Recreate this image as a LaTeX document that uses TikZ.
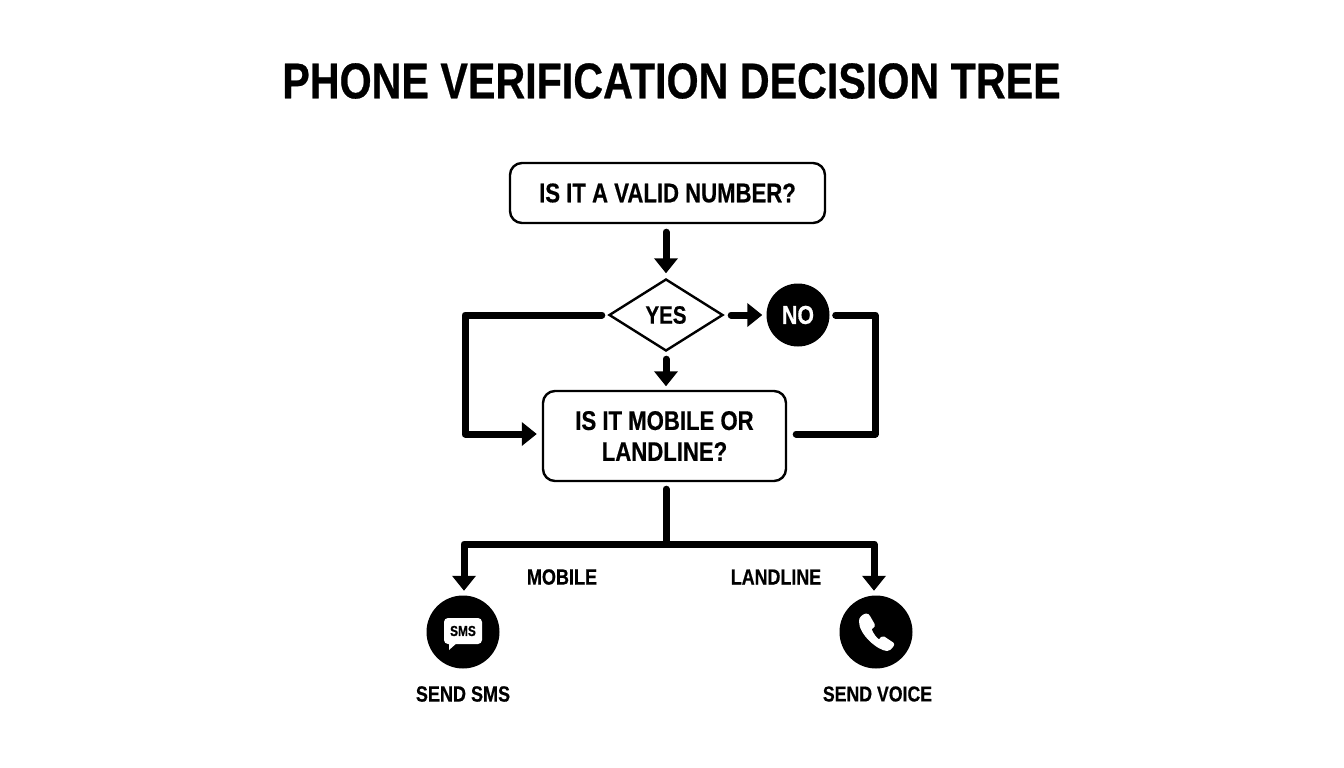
\documentclass[tikz,border=0pt]{standalone}
\usepackage{fontspec}
\setmainfont[FakeStretch=0.82,BoldFeatures={FakeBold=0.5}]{Liberation Sans}
\usetikzlibrary{arrows.meta,shapes.geometric}
\tikzset{
  x=1pt,y=-1pt,
  lbl/.style={font=\fontsize{#1}{#1}\selectfont\bfseries,text=black,inner sep=0pt,align=center},
  boxq/.style={draw=black,line width=2.4pt,rounded corners=12pt,fill=white,inner sep=0pt},
  conn/.style={draw=black,line width=7pt,line cap=round,line join=round},
  arr/.style={conn,-{Triangle[width=23pt,length=15pt]}},
  disc/.style={circle,fill=black,inner sep=0pt}
}
\begin{document}
\begin{tikzpicture}
\useasboundingbox[fill=white] (0,0) rectangle (1344,768);
\node[lbl=50.3] (title) at (671.5,81) {PHONE VERIFICATION DECISION TREE};
\node[boxq,minimum width=315pt,minimum height=60pt,lbl=27] (q1) at (667.5,193) {IS IT A VALID NUMBER?};
\node[diamond,draw=black,line width=2.4pt,fill=white,inner sep=0pt,minimum width=114pt,minimum height=72pt,aspect=1.58,lbl=25] (d) at (666,315) {YES};
\node[disc,minimum size=63pt,text=white,font=\fontsize{26}{26}\selectfont\bfseries] (no) at (798,315) {NO};
\node[boxq,minimum width=243pt,minimum height=90pt,lbl=27] (q2) at (664.5,436) {IS IT MOBILE OR\\[4pt]LANDLINE?};
\node[disc,minimum size=73pt] (sms) at (463,632) {};
\node[disc,minimum size=73pt] (voice) at (876,632) {};
\node[lbl=22] (smst) at (463,694) {SEND SMS};
\node[lbl=21.6] (voicet) at (877.5,694) {SEND VOICE};
\node[lbl=22] (mob) at (562,577) {MOBILE};
\node[lbl=21.8] (land) at (776,577) {LANDLINE};
% connectors
\draw[arr] ([xshift=-1.5pt,yshift=-8pt]q1.south) -- ([yshift=4.5pt]d.north);
\draw[arr] ([yshift=-7pt]d.south) -- ([yshift=3.5pt,xshift=1.5pt]q2.north);
\draw[arr] ([xshift=7pt]d.east) -- ([xshift=-4pt]no.west);
\coordinate (lt) at (465,315);
\coordinate (lb) at (465,434);
\coordinate (rt) at (875,315);
\coordinate (rb) at (875,434);
\draw[arr] ([xshift=-6pt]d.west) -- (lt) -- (lb) -- ([xshift=-5pt,yshift=2pt]q2.west);
\draw[conn] ([xshift=6pt]no.east) -- (rt) -- (rb) -- ([xshift=9pt,yshift=2pt]q2.east);
\coordinate (hub) at (666,544);
\coordinate (hl) at (464,544);
\coordinate (hr) at (874,544);
\draw[conn] ([xshift=1.5pt,yshift=-7pt]q2.south) -- (hub);
\draw[arr,line cap=butt] (hub) -- (hl) -- ([xshift=1pt,yshift=4.5pt]sms.north);
\draw[arr,line cap=butt] (hub) -- (hr) -- ([xshift=-2pt,yshift=4.5pt]voice.north);
% SMS icon
\begin{scope}[shift={(sms.center)}]
\fill[white,rounded corners=4pt] (-19,-14) rectangle (19,12);
\fill[white] (-14,10) -- (-14,18) -- (-5,10) -- cycle;
\node[font=\fontsize{14.5}{14.5}\selectfont\bfseries,text=black,inner sep=0pt] (smsi) at (0,-1) {SMS};
\end{scope}
% phone icon
\begin{scope}[shift={(voice.center)}]
\fill[white,line join=round,draw=white,line width=1pt]
  (-10,-18) .. controls (-8,-18) and (-7,-17) .. (-6,-15)
  -- (-2,-8)
  .. controls (-1,-6) and (-2,-5) .. (-5,-3)
  .. controls (-3,2) and (0,6) .. (3,8)
  .. controls (5,6) and (6,4) .. (8,5)
  -- (17,11)
  .. controls (18,12) and (18,13) .. (17,14)
  .. controls (15,17) and (13,18.5) .. (11,18.5)
  .. controls (2,18) and (-17,2) .. (-16.5,-11)
  .. controls (-16.5,-14) and (-14,-17) .. (-10,-18)
  -- cycle;
\end{scope}
\end{tikzpicture}
\end{document}
